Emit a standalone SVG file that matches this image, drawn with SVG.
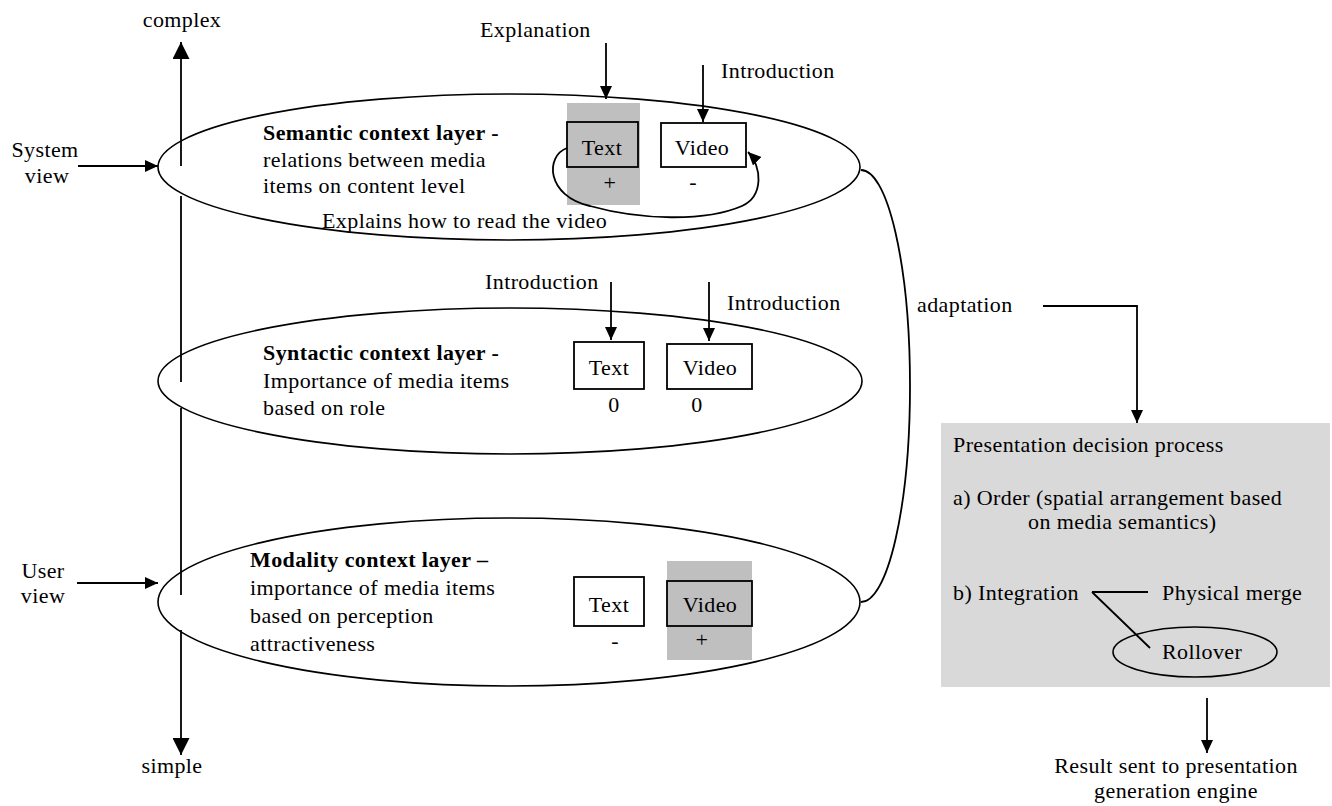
<svg xmlns="http://www.w3.org/2000/svg" width="1332" height="806" viewBox="0 0 1332 806">
<defs>
<style>
text{font-family:"Liberation Serif","Times New Roman",serif;font-size:22px;letter-spacing:0.4px;fill:#000}
.b{font-weight:bold}
.m{text-anchor:middle}
.ln{stroke:#000;stroke-width:1.8;fill:none}
.el{stroke:#000;stroke-width:1.6;fill:#fff}
.box{stroke:#000;stroke-width:1.8;fill:#fff}
.gbox{stroke:#000;stroke-width:1.8;fill:#bfbfbf}
.hl{fill:#bfbfbf}
</style>
<marker id="ah" markerUnits="userSpaceOnUse" markerWidth="14" markerHeight="12" refX="13" refY="6" orient="auto">
<path d="M0,0 L13,6 L0,12 z" fill="#000"/>
</marker>
<marker id="ahL" markerUnits="userSpaceOnUse" markerWidth="18" markerHeight="17" refX="17" refY="8.5" orient="auto">
<path d="M0,0 L17,8.5 L0,17 z" fill="#000"/>
</marker>
</defs>
<rect width="1332" height="806" fill="#fff"/>

<g id="layer-semantic">
<ellipse class="el" cx="509" cy="167" rx="351" ry="73"/>
<text class="b" x="263" y="140">Semantic context layer -</text>
<text x="263" y="167">relations between media</text>
<text x="263" y="193">items on content level</text>
</g>
<g id="layer-syntactic">
<ellipse class="el" cx="510" cy="381" rx="352" ry="73"/>
<text class="b" x="263" y="360">Syntactic context layer -</text>
<text x="263" y="388">Importance of media items</text>
<text x="263" y="415">based on role</text>
</g>
<g id="layer-modality">
<ellipse class="el" cx="509" cy="602" rx="351" ry="84"/>
<text class="b" x="250" y="567">Modality context layer –</text>
<text x="250" y="595">importance of media items</text>
<text x="250" y="623">based on perception</text>
<text x="250" y="651">attractiveness</text>
</g>

<g id="sem-text">
<rect class="hl" x="567" y="103" width="73" height="102"/>
<rect class="gbox" x="567" y="122" width="71" height="45"/>
<text class="m" x="602" y="155">Text</text>
<text class="m" x="610" y="190">+</text>
</g>
<g id="sem-video">
<rect class="box" x="661" y="123" width="85" height="44"/>
<text class="m" x="702" y="155">Video</text>
<text class="m" x="693" y="189">-</text>
</g>
<g id="syn-text">
<rect class="box" x="574" y="342" width="70" height="47"/>
<text class="m" x="609" y="375">Text</text>
<text class="m" x="614" y="412">0</text>
</g>
<g id="syn-video">
<rect class="box" x="667" y="344" width="85" height="45"/>
<text class="m" x="710" y="375">Video</text>
<text class="m" x="697" y="412">0</text>
</g>
<g id="mod-text">
<rect class="box" x="574" y="577" width="70" height="49"/>
<text class="m" x="609" y="612">Text</text>
<text class="m" x="615" y="648">-</text>
</g>
<g id="mod-video">
<rect class="hl" x="667" y="561" width="85" height="99"/>
<rect class="gbox" x="667" y="581" width="85" height="45"/>
<text class="m" x="710" y="612">Video</text>
<text class="m" x="702" y="647">+</text>
</g>

<g id="decision">
<rect x="941" y="423" width="389" height="264" fill="#d9d9d9"/>
<text x="953" y="452">Presentation decision process</text>
<text x="953" y="505">a) Order (spatial arrangement based</text>
<text x="1028" y="529">on media semantics)</text>
<text x="953" y="600">b) Integration</text>
<text x="1162" y="600">Physical merge</text>
<ellipse cx="1195" cy="652" rx="82" ry="25" fill="none" stroke="#000" stroke-width="1.6"/>
<text x="1162" y="659">Rollover</text>
<path class="ln" d="M1092,592 L1148,592 M1092,592 L1150,648" stroke-width="1.4"/>
</g>

<g id="labels">
<text class="m" x="182" y="27">complex</text>
<text class="m" x="172" y="773">simple</text>
<text class="m" x="45" y="157">System</text>
<text class="m" x="47" y="183">view</text>
<text class="m" x="43" y="578">User</text>
<text class="m" x="43" y="603">view</text>
<text x="480" y="37">Explanation</text>
<text x="721" y="78">Introduction</text>
<text x="485" y="289">Introduction</text>
<text x="727" y="310">Introduction</text>
<text x="322" y="228">Explains how to read the video</text>
<text x="917" y="312">adaptation</text>
<text class="m" x="1176" y="773">Result sent to presentation</text>
<text class="m" x="1176" y="798">generation engine</text>
</g>

<g id="connectors">
<line class="ln" x1="181" y1="166" x2="181" y2="42" marker-end="url(#ahL)"/>
<line class="ln" x1="181" y1="196" x2="181" y2="382"/>
<line class="ln" x1="181" y1="408" x2="181" y2="595"/>
<line class="ln" x1="181" y1="630" x2="181" y2="755" marker-end="url(#ahL)"/>
<line class="ln" x1="78" y1="166" x2="158" y2="166" marker-end="url(#ah)"/>
<line class="ln" x1="77" y1="583" x2="158" y2="583" marker-end="url(#ah)"/>
<line class="ln" x1="606" y1="43" x2="606" y2="99" marker-end="url(#ah)"/>
<line class="ln" x1="703" y1="65" x2="703" y2="122" marker-end="url(#ah)"/>
<line class="ln" x1="611" y1="282" x2="611" y2="340" marker-end="url(#ah)"/>
<line class="ln" x1="709" y1="282" x2="709" y2="341" marker-end="url(#ah)"/>
<path class="ln" d="M567,148 C545,156 546,196 590,206 C640,220 705,222 742,206 C764,196 762,166 748,152" marker-end="url(#ah)"/>
<path class="ln" d="M861,170 A49,216 0 0 1 861,602"/>
<path class="ln" d="M1043,306 L1137,306 L1137,423" marker-end="url(#ah)"/>
<line class="ln" x1="1207" y1="698" x2="1207" y2="753" marker-end="url(#ah)"/>
</g>
</svg>
